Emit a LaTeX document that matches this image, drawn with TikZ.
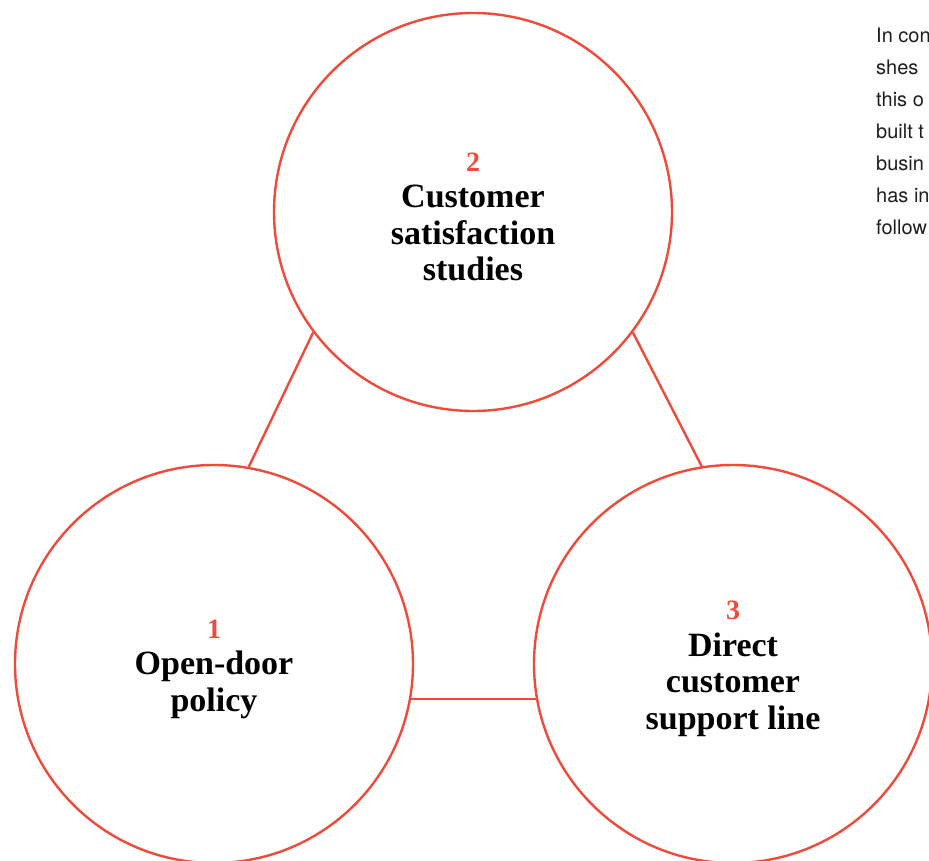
\documentclass[tikz,border=0pt]{standalone}
\usepackage{fontspec}
\setmainfont{Liberation Serif}
\newfontfamily\notefont{TeX Gyre Heros}
\definecolor{ringred}{HTML}{EE4B3B}
\definecolor{notegray}{HTML}{1E1E1E}
\newcommand{\ringnum}[1]{{\fontsize{28}{36.5}\selectfont\color{ringred}#1}}

\begin{document}
\begin{tikzpicture}[x=1pt,y=-1pt,
  ring/.style={circle,draw=ringred,line width=2.4pt,minimum size=398pt,inner sep=0pt},
  caption/.style={align=center,text=black,yshift=-5pt,font=\fontsize{34}{36.5}\selectfont\bfseries},
  link/.style={draw=ringred,line width=2.4pt},
  notes/.style={anchor=base west,inner sep=0pt,text=notegray,font=\notefont\fontsize{20}{24}\selectfont}]
\useasboundingbox (0,0) rectangle (929,861);
% the three circles
\node[ring] (studies) at (473,212) {};
\node[ring] (opendoor) at (214,664) {};
\node[ring] (support) at (733,664) {};
\node[caption] (studiestext) at (studies) {\ringnum{2}\\Customer\\satisfaction\\studies};
\node[caption] (opendoortext) at (opendoor) {\ringnum{1}\\Open-door\\policy};
\node[caption] (supporttext) at (support) {\ringnum{3}\\Direct\\customer\\support line};
% links between them
\draw[link] (studies.217) -- (opendoor.80.5);
\draw[link] (studies.323) -- (support.99.7);
\draw[link] (opendoor.-10.1) -- (support.190.1);
% side text, cut at the edge
\foreach \txt [count=\i from 0] in {In con,shes,this o,built t,busin,has in,follow}
  \node[notes] (note\i) at (876,43+32*\i) {\txt};
\end{tikzpicture}
\end{document}
